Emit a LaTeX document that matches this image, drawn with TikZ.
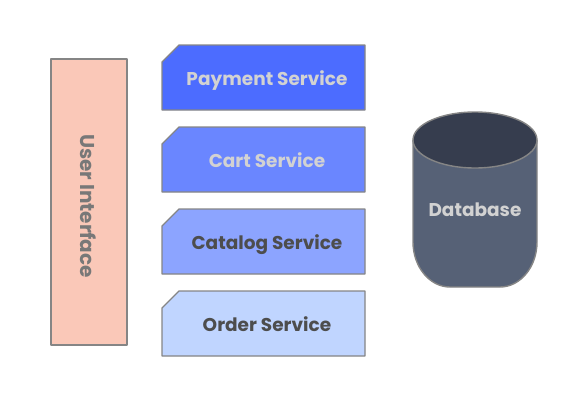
\documentclass[tikz,border=0pt]{standalone}
\usepackage{fontspec}
\setmainfont{Poppins}
\usepackage{tikz}

\definecolor{edgegray}{HTML}{858585}
\definecolor{uifill}{HTML}{FAC8B8}
\definecolor{payfill}{HTML}{4C6CFF}
\definecolor{cartfill}{HTML}{6A86FF}
\definecolor{catfill}{HTML}{8CA4FF}
\definecolor{ordfill}{HTML}{C0D5FF}
\definecolor{dbbody}{HTML}{566176}
\definecolor{dbtop}{HTML}{363D4E}
\definecolor{lighttext}{HTML}{D2D2D2}
\definecolor{darktext}{HTML}{4D4D4D}
\definecolor{uitext}{HTML}{787878}

\begin{document}
\begin{tikzpicture}[line cap=round,line join=round,x=1pt,y=-1pt,
  label/.style={font=\bfseries\fontsize{18.5}{20}\selectfont}]
\useasboundingbox (0,0) rectangle (581,402);
% user interface
\draw[line width=1.4pt,color=edgegray,fill=uifill] (51,59) rectangle (127,345);
\node[label,rotate=-90,text=uitext,font=\bfseries\fontsize{20}{22}\selectfont] (ui) at (88,206) {User Interface};
% services
\foreach \y/\c/\t/\n/\l in {45/payfill/lighttext/pay/Payment Service,
  127/cartfill/lighttext/cart/Cart Service,
  209/catfill/darktext/cat/Catalog Service,
  291/ordfill/darktext/ord/Order Service}
{
\draw[line width=1.4pt,color=edgegray,fill=\c] (162,\y+17) -- (179,\y) -- (365,\y) -- (365,\y+65) -- (162,\y+65) -- cycle;
\node[label,text=\t,anchor=base] (\n) at (267,\y+40.5) {\l};
}
% database
\draw[line width=1.4pt,color=edgegray,fill=dbbody] (413,140) -- (413,242)
  .. controls (413,266.8) and (429.6,287) .. (450,287) -- (500,287)
  .. controls (520.4,287) and (537,266.8) .. (537,242) -- (537,140) -- cycle;
\draw[line width=1.4pt,color=edgegray,fill=dbtop] (475,140) ellipse [x radius=62,y radius=28];
\node[label,text=lighttext,anchor=base] (db) at (475,216) {Database};
\end{tikzpicture}
\end{document}
